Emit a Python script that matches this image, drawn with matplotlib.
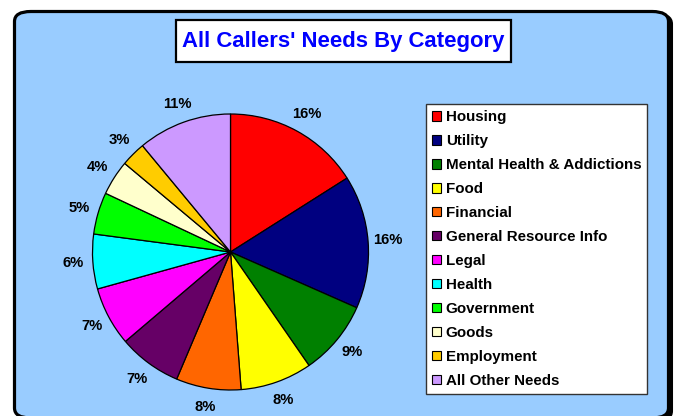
import matplotlib
matplotlib.use("Agg")
import matplotlib.pyplot as plt
from matplotlib.patches import FancyBboxPatch, Rectangle

plt.rcParams['font.family'] = ['Liberation Sans', 'DejaVu Sans']

title = "All Callers' Needs By Category"
categories = ["Housing", "Utility", "Mental Health & Addictions", "Food", "Financial",
              "General Resource Info", "Legal", "Health", "Government", "Goods",
              "Employment", "All Other Needs"]
values = [16.0, 15.6, 8.75, 8.4, 7.6, 7.4, 6.9, 6.4, 4.9, 4.1, 2.9, 11.0]
colors = ["#FF0000", "#000080", "#008000", "#FFFF00", "#FF6600", "#660066",
          "#FF00FF", "#00FFFF", "#00FF00", "#FFFFCC", "#FFCC00", "#CC99FF"]

W, H = 678, 416
fig = plt.figure(figsize=(W / 100, H / 100), dpi=100)
fig.patch.set_facecolor("white")


def fx(px):
    return px / W


def fy(py):
    return 1 - py / H


# shadow + outer rounded box
shadow = FancyBboxPatch((fx(18), fy(421)), fx(671.5) - fx(18), fy(14) - fy(421),
                        boxstyle="round,pad=0,rounding_size=0.024",
                        transform=fig.transFigure, facecolor="black", edgecolor="black",
                        linewidth=2.2, zorder=0)
fig.patches.append(shadow)
outer = FancyBboxPatch((fx(14.5), fy(418)), fx(668.5) - fx(14.5), fy(11.5) - fy(418),
                       boxstyle="round,pad=0,rounding_size=0.024",
                       transform=fig.transFigure, facecolor="#99CCFF", edgecolor="black",
                       linewidth=2.3, zorder=1)
fig.patches.append(outer)

# title box
tbox = Rectangle((fx(175.5), fy(61.5)), fx(510.5) - fx(175.5), fy(19.5) - fy(61.5),
                 transform=fig.transFigure, facecolor="white", edgecolor="black",
                 linewidth=1.6, zorder=2)
fig.patches.append(tbox)
fig.text(fx(343), fy(41), title, color="#0000FF", fontsize=15.9, fontweight="bold",
         ha="center", va="center", zorder=3)

# pie
cx, cy, r = 230.5, 252, 138
ax = fig.add_axes([fx(cx - r), fy(cy + r), fx(2 * r), fy(cy - r) - fy(cy + r)])
ax.set_zorder(3)
ax.patch.set_visible(False)
wedges, texts, autotexts = ax.pie(values, colors=colors, startangle=90, counterclock=False,
                                  autopct='%.0f%%', pctdistance=1.14,
                                  wedgeprops=dict(edgecolor="black", linewidth=0.9),
                                  textprops=dict(fontsize=10.6, fontweight="bold", color="black"))
ax.set_xlim(-1, 1)
ax.set_ylim(-1, 1)
ax.set_aspect("equal")
ax.axis("off")

# legend
leg = fig.legend(wedges, categories, loc="upper left",
                 bbox_to_anchor=(fx(426), fy(104)), bbox_transform=fig.transFigure,
                 prop=dict(weight="bold", size=10.9),
                 frameon=True, fancybox=False, shadow=False, borderaxespad=0,
                 handlelength=0.6, handleheight=0.6, handletextpad=0.3,
                 labelspacing=0.66, borderpad=0.4)
leg.set_zorder(4)
fr = leg.get_frame()
fr.set_edgecolor("#333333")
fr.set_linewidth(1.0)
fr.set_facecolor("white")
fr.set_alpha(1)
for h in leg.legend_handles:
    h.set_edgecolor("black")
    h.set_linewidth(0.8)

fig.savefig("out.png", dpi=100)
